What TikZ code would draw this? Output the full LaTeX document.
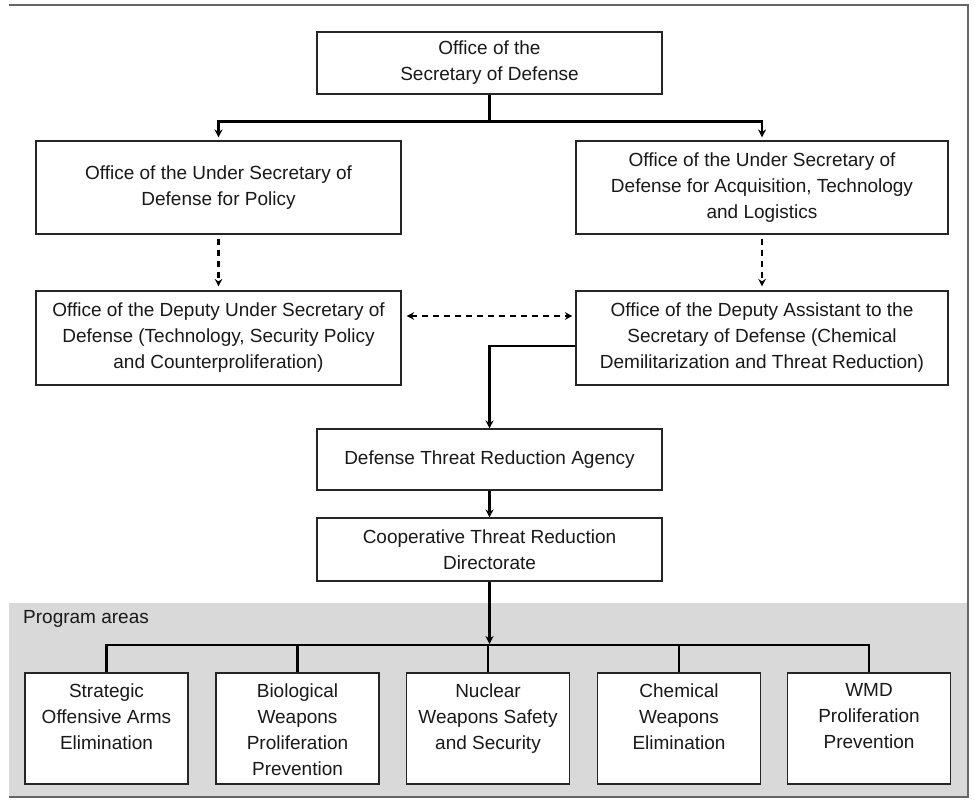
\documentclass[tikz,border=0pt]{standalone}
\usepackage{fontspec}
\setmainfont{Liberation Sans}
\usetikzlibrary{arrows.meta,calc}
\begin{document}
\begin{tikzpicture}[x=1pt,y=-1pt,
  txt/.style={inner sep=0pt,align=center,font=\fontsize{19}{26}\selectfont,text=black!90},
  box/.style={txt,draw=black!85,line width=1.1pt,fill=white},
  pbox/.style={draw=black!85,line width=1.1pt,fill=white,inner sep=0pt,minimum width=163pt,minimum height=111pt},
  conn/.style={line width=2.8pt,black},
  arr/.style={conn,-{Stealth[length=8pt,width=8pt]}},
  darr/.style={line width=2.4pt,black,dash pattern=on 6pt off 5pt,-{Stealth[length=7.5pt,width=7.5pt]}},
  ddarr/.style={line width=2.4pt,black,dash pattern=on 6pt off 5pt,{Stealth[length=7.5pt,width=7.5pt]}-{Stealth[length=7.5pt,width=7.5pt]}},
  frame/.style={draw=black!60,line width=1.8pt}
]
\useasboundingbox (0,0) rectangle (975,802);
% background frame and program area
\fill[black!15] (9,603) rectangle (968,797);
\draw[frame] (9,5) -- (968,5) -- (968,797) -- (9,797);

% boxes
\node[box,minimum width=345pt,minimum height=62pt] (sec) at (489.5,63) {Office of the\\Secretary of Defense};
\node[box,minimum width=365pt,minimum height=93pt] (usp) at (218.5,187.5) {Office of the Under Secretary of\\Defense for Policy};
\node[box,minimum width=372pt,minimum height=93pt] (usa) at (762,187.5) {Office of the Under Secretary of\\Defense for Acquisition, Technology\\and Logistics};
\node[box,minimum width=365pt,minimum height=94pt] (dus) at (218.5,338) {Office of the Deputy Under Secretary of\\Defense (Technology, Security Policy\\and Counterproliferation)};
\node[box,minimum width=372pt,minimum height=94pt] (dat) at (762,338) {Office of the Deputy Assistant to the\\Secretary of Defense (Chemical\\Demilitarization and Threat Reduction)};
\node[box,minimum width=345pt,minimum height=61pt] (dtra) at (489.5,459.5) {Defense Threat Reduction Agency};
\node[box,minimum width=345pt,minimum height=63pt] (ctr) at (489.5,549.5) {Cooperative Threat Reduction\\Directorate};

\node[txt,anchor=west] (pa) at (23,619) {Program areas};

\node[pbox] (p1) at (106.5,728.5) {};
\node[pbox] (p2) at (297.5,728.5) {};
\node[pbox] (p3) at (488,728.5) {};
\node[pbox] (p4) at (679,728.5) {};
\node[pbox] (p5) at (869,728.5) {};
\node[txt,anchor=north] (p1t) at ([yshift=-11pt]p1.north) {Strategic\\Offensive Arms\\Elimination};
\node[txt,anchor=north] (p2t) at ([yshift=-11pt]p2.north) {Biological\\Weapons\\Proliferation\\Prevention};
\node[txt,anchor=north] (p3t) at ([yshift=-11pt]p3.north) {Nuclear\\Weapons Safety\\and Security};
\node[txt,anchor=north] (p4t) at ([yshift=-11pt]p4.north) {Chemical\\Weapons\\Elimination};
\node[txt,anchor=north] (p5t) at ([yshift=-11pt]p5.north) {WMD\\Proliferation\\Prevention};

% connectors
\draw[conn] (sec.south) -- ++(0,27) coordinate (j1);
\draw[arr,shorten >=3pt] (j1) -| (usp.north);
\draw[arr,shorten >=3pt] (j1) -| (usa.north);
\draw[darr,shorten <=4pt,shorten >=4pt] (usp.south) -- (dus.north);
\draw[darr,shorten <=4pt,shorten >=4pt] (usa.south) -- (dat.north);
\draw[ddarr,shorten <=5pt,shorten >=3pt] ([yshift=22pt]dus.east) -- ([yshift=22pt]dat.west);
\draw[arr] ([yshift=-8pt]dat.west) -| (dtra.north);
\draw[arr] (dtra.south) -- (ctr.north);
\coordinate (bus) at (489.5,645);
\draw[arr,shorten >=1pt] (ctr.south) -- (bus);
\draw[conn] (p1.north) |- (p5.north |- bus) -- (p5.north);
\draw[conn] (p2.north) -- (p2.north |- bus);
\draw[conn] (p3.north) -- (p3.north |- bus);
\draw[conn] (p4.north) -- (p4.north |- bus);
\end{tikzpicture}
\end{document}
